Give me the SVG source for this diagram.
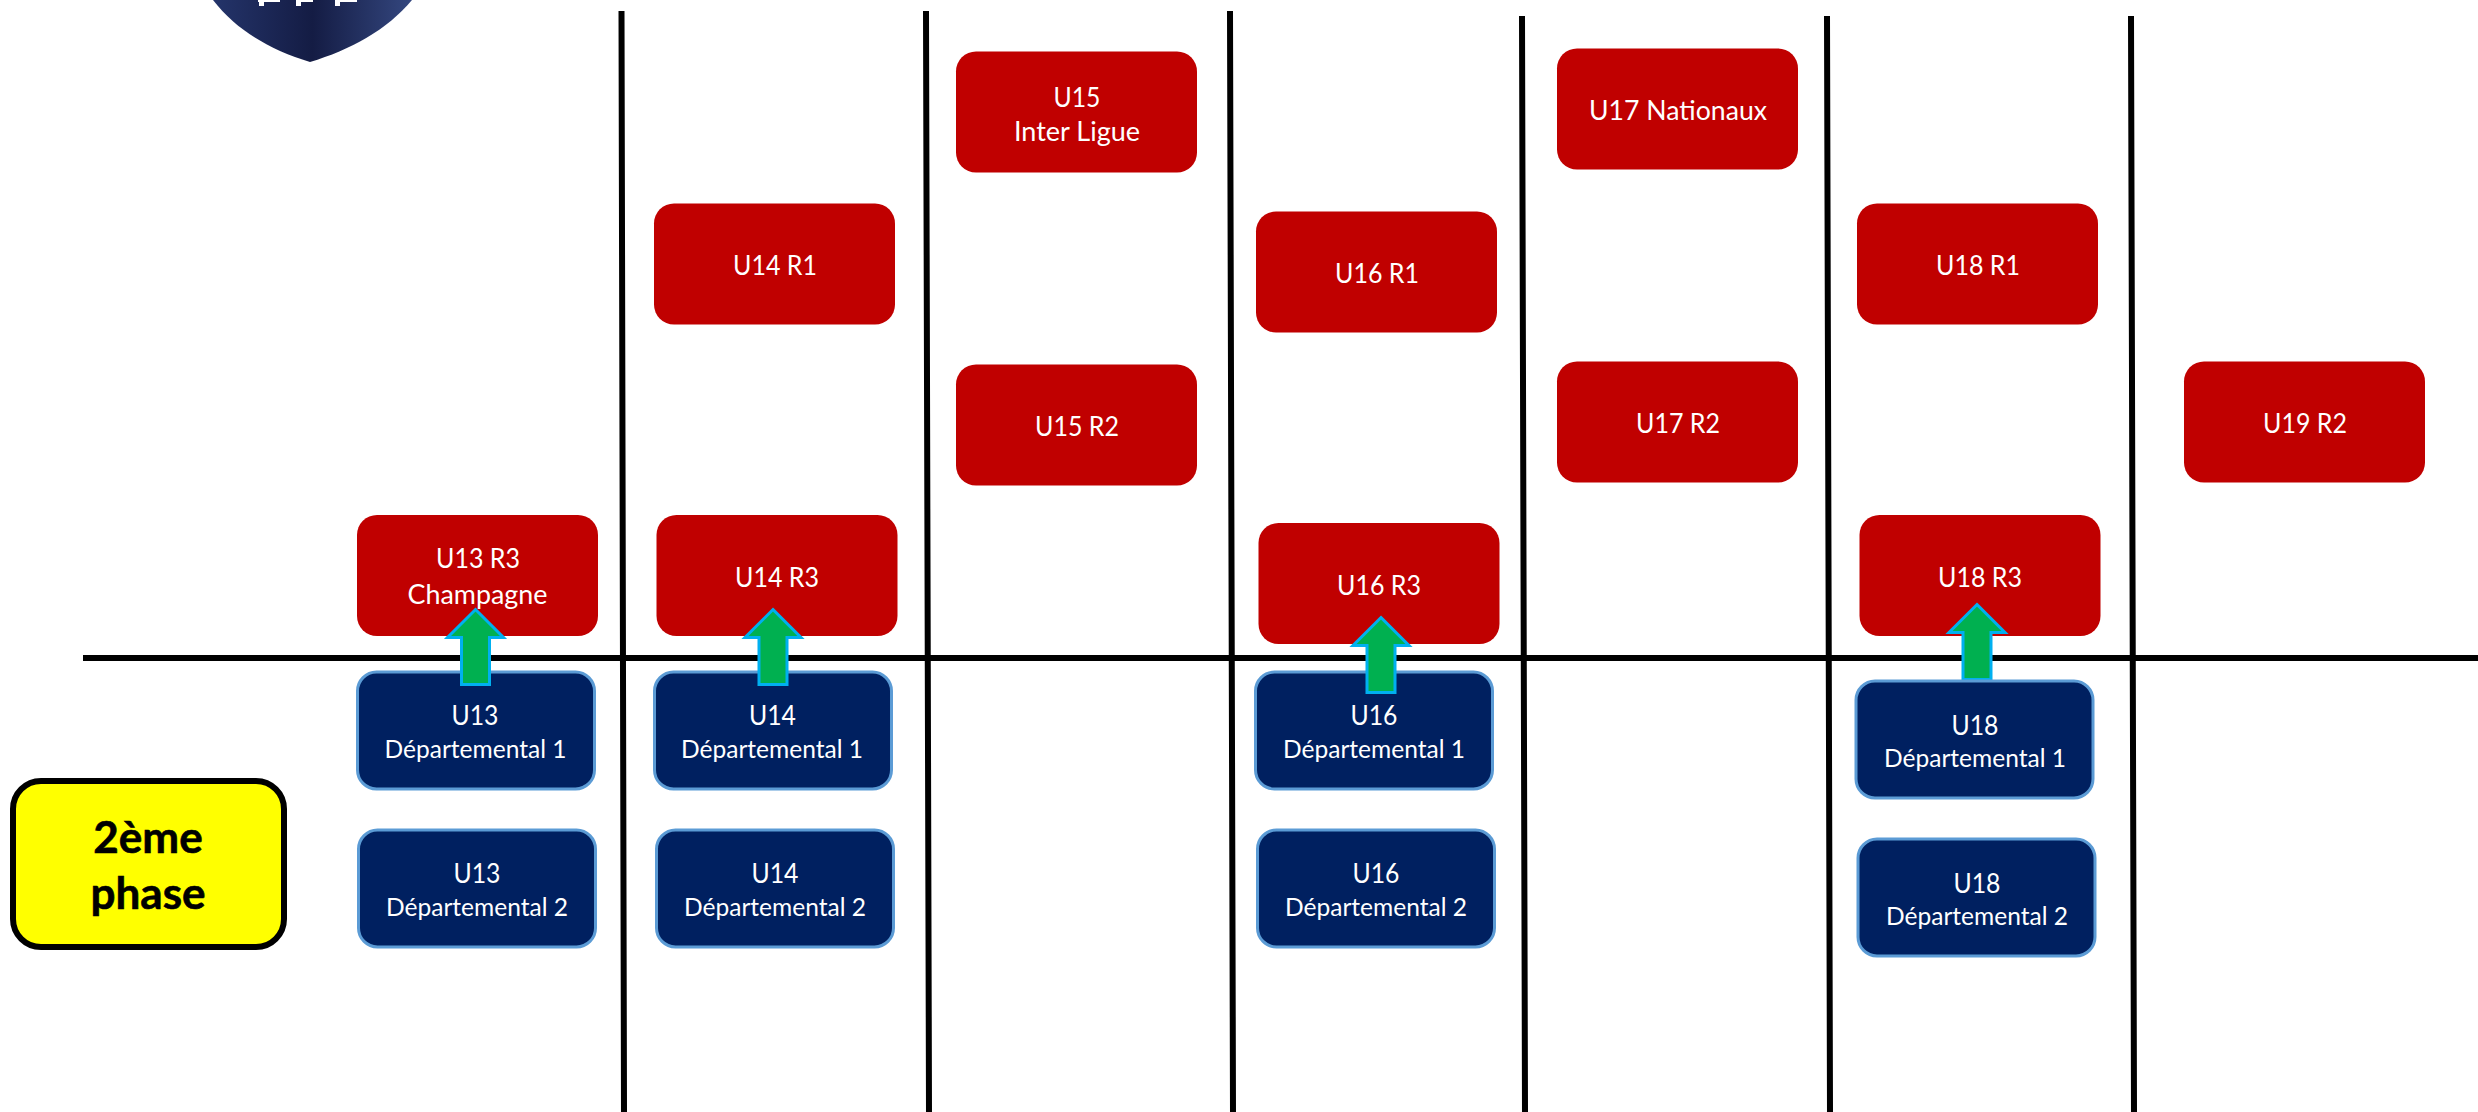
<svg xmlns="http://www.w3.org/2000/svg" width="2478" height="1112" viewBox="0 0 2478 1112">
<style>
.r{fill:#c00000}
.n{fill:#002060;stroke:#5b9bd5;stroke-width:3}
.t{fill:#fff;font-family:"Lato","Open Sans",sans-serif;text-anchor:middle;font-size:27px}
.s{font-size:24.5px}
.l{stroke:#000;stroke-width:6;fill:none}
.a{fill:#00b050;stroke:#00b0f0;stroke-width:3}
.y{fill:#ff0;stroke:#000;stroke-width:6}
.p{fill:#000;stroke:#000;stroke-width:.6;font-family:"Lato","Open Sans",sans-serif;font-weight:700;font-size:44px;text-anchor:middle}
</style>
<defs>
<linearGradient id="g" x1="0" x2="1" y1="0" y2="0"><stop offset="0" stop-color="#24346a"/><stop offset=".5" stop-color="#141c44"/><stop offset="1" stop-color="#34477f"/></linearGradient>
<g id="ar"><path class="a" d="M0 0L28 28H14V75H-14V28H-28Z"/></g>
</defs>
<g id="logo">
<path d="M213 0C236 30 270 50 310 62C350 50 387 30 412 0Z" fill="url(#g)"/>
<path d="M258 0H280V2H264V6H259V2H258ZM296 0H313V2H301V6H296ZM335 0H357V2H340V6H335Z" fill="#fff"/>
</g>
<g id="connectors">
<path class="l" d="M83 658H2478"/>
<path class="l" d="M621.500 11L624 1112M926 11L929 1112M1230 11L1233 1112M1522 16L1525 1112M1827 16L1830 1112M2131 16L2134 1112"/>
</g>
<g id="u13r3"><rect class="r" x="357" y="515" width="241" height="121" rx="20"/><text class="t" x="478" y="568" textLength="84" lengthAdjust="spacingAndGlyphs">U13 R3</text><text class="t" x="477.500" y="604" textLength="140" lengthAdjust="spacingAndGlyphs">Champagne</text></g>
<g id="u14r1"><rect class="r" x="654" y="203.500" width="241" height="121" rx="20"/><text class="t" x="775" y="275" textLength="84" lengthAdjust="spacingAndGlyphs">U14 R1</text></g>
<g id="u14r3"><rect class="r" x="656.500" y="515" width="241" height="121" rx="20"/><text class="t" x="777" y="587" textLength="84" lengthAdjust="spacingAndGlyphs">U14 R3</text></g>
<g id="u15il"><rect class="r" x="956" y="51.500" width="241" height="121" rx="20"/><text class="t" x="1077" y="107" textLength="47" lengthAdjust="spacingAndGlyphs">U15</text><text class="t" x="1077" y="141" textLength="126" lengthAdjust="spacingAndGlyphs">Inter Ligue</text></g>
<g id="u15r2"><rect class="r" x="956" y="364.500" width="241" height="121" rx="20"/><text class="t" x="1077" y="436" textLength="84" lengthAdjust="spacingAndGlyphs">U15 R2</text></g>
<g id="u16r1"><rect class="r" x="1256" y="211.500" width="241" height="121" rx="20"/><text class="t" x="1377" y="283" textLength="84" lengthAdjust="spacingAndGlyphs">U16 R1</text></g>
<g id="u16r3"><rect class="r" x="1258.500" y="523" width="241" height="121" rx="20"/><text class="t" x="1379" y="594.500" textLength="84" lengthAdjust="spacingAndGlyphs">U16 R3</text></g>
<g id="u17n"><rect class="r" x="1557" y="48.500" width="241" height="121" rx="20"/><text class="t" x="1678" y="120" textLength="178" lengthAdjust="spacingAndGlyphs">U17 Nationaux</text></g>
<g id="u17r2"><rect class="r" x="1557" y="361.500" width="241" height="121" rx="20"/><text class="t" x="1678" y="433" textLength="84" lengthAdjust="spacingAndGlyphs">U17 R2</text></g>
<g id="u18r1"><rect class="r" x="1857" y="203.500" width="241" height="121" rx="20"/><text class="t" x="1978" y="275" textLength="84" lengthAdjust="spacingAndGlyphs">U18 R1</text></g>
<g id="u18r3"><rect class="r" x="1859.500" y="515" width="241" height="121" rx="20"/><text class="t" x="1980" y="587" textLength="84" lengthAdjust="spacingAndGlyphs">U18 R3</text></g>
<g id="u19r2"><rect class="r" x="2184" y="361.500" width="241" height="121" rx="20"/><text class="t" x="2305" y="433" textLength="84" lengthAdjust="spacingAndGlyphs">U19 R2</text></g>
<g id="u13d1"><rect class="n" x="357.500" y="672" width="237" height="117" rx="19"/><text class="t" x="475" y="725" textLength="47" lengthAdjust="spacingAndGlyphs">U13</text><text class="t s" x="475.500" y="757.500" textLength="182" lengthAdjust="spacingAndGlyphs">Départemental 1</text></g>
<g id="u13d2"><rect class="n" x="358.500" y="830" width="237" height="117" rx="19"/><text class="t" x="477" y="883" textLength="47" lengthAdjust="spacingAndGlyphs">U13</text><text class="t s" x="477" y="915.500" textLength="182" lengthAdjust="spacingAndGlyphs">Départemental 2</text></g>
<g id="u14d1"><rect class="n" x="654.500" y="672" width="237" height="117" rx="19"/><text class="t" x="772.500" y="725" textLength="47" lengthAdjust="spacingAndGlyphs">U14</text><text class="t s" x="772" y="757.500" textLength="182" lengthAdjust="spacingAndGlyphs">Départemental 1</text></g>
<g id="u14d2"><rect class="n" x="656.500" y="830" width="237" height="117" rx="19"/><text class="t" x="775" y="883" textLength="47" lengthAdjust="spacingAndGlyphs">U14</text><text class="t s" x="775" y="915.500" textLength="182" lengthAdjust="spacingAndGlyphs">Départemental 2</text></g>
<g id="u16d1"><rect class="n" x="1255.500" y="672" width="237" height="117" rx="19"/><text class="t" x="1374" y="725" textLength="47" lengthAdjust="spacingAndGlyphs">U16</text><text class="t s" x="1374" y="757.500" textLength="182" lengthAdjust="spacingAndGlyphs">Départemental 1</text></g>
<g id="u16d2"><rect class="n" x="1257.500" y="830" width="237" height="117" rx="19"/><text class="t" x="1376" y="883" textLength="47" lengthAdjust="spacingAndGlyphs">U16</text><text class="t s" x="1376" y="915.500" textLength="182" lengthAdjust="spacingAndGlyphs">Départemental 2</text></g>
<g id="arrows">
<use href="#ar" x="475.500" y="609.500"/>
<use href="#ar" x="773" y="609.500"/>
<use href="#ar" x="1381" y="617.500"/>
<use href="#ar" x="1977" y="604.500"/>
</g>
<g id="u18d1"><rect class="n" x="1856" y="681" width="237" height="117" rx="19"/><text class="t" x="1975" y="734.500" textLength="47" lengthAdjust="spacingAndGlyphs">U18</text><text class="t s" x="1975" y="766.500" textLength="182" lengthAdjust="spacingAndGlyphs">Départemental 1</text></g>
<g id="u18d2"><rect class="n" x="1858" y="839" width="237" height="117" rx="19"/><text class="t" x="1977" y="892.500" textLength="47" lengthAdjust="spacingAndGlyphs">U18</text><text class="t s" x="1977" y="924.500" textLength="182" lengthAdjust="spacingAndGlyphs">Départemental 2</text></g>
<g id="phase"><rect class="y" x="13" y="781" width="271" height="166" rx="28"/><text class="p" x="148" y="853">2ème</text><text class="p" x="148" y="909">phase</text></g>
</svg>
